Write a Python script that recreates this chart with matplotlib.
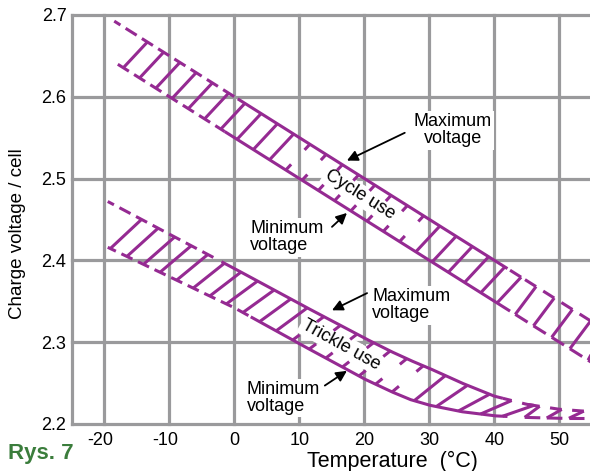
import numpy as np
import matplotlib
matplotlib.use('Agg')
import matplotlib.pyplot as plt
from matplotlib.transforms import ScaledTranslation

# ---------------- data ----------------
cycle_T = [-18.5, 0, 10, 20, 30, 40, 50, 55]
cycle_max = [2.6925, 2.60, 2.55, 2.50, 2.45, 2.40, 2.35, 2.325]
cycle_min = [2.6425, 2.55, 2.50, 2.45, 2.40, 2.35, 2.30, 2.275]

trickle_T = [-19.5, -10, 0, 10, 20, 24, 27, 30, 35, 40, 45, 50, 55]
trickle_max = [2.472, 2.432, 2.39, 2.347, 2.305, 2.289, 2.278, 2.268, 2.250, 2.234, 2.224, 2.218, 2.215]
trickle_min = [2.416, 2.38, 2.342, 2.298, 2.255, 2.240, 2.230, 2.223, 2.215, 2.210, 2.208, 2.207, 2.207]

x_ticks = [-20, -10, 0, 10, 20, 30, 40, 50]
x_tick_labels = ['-20', '-10', '0', '10', '20', '30', '40', '50']
y_ticks = [2.2, 2.3, 2.4, 2.5, 2.6, 2.7]
y_tick_labels = ['2.2', '2.3', '2.4', '2.5', '2.6', '2.7']

PURPLE = '#952a92'
GRID = '#9a9a9c'
FONT = 'Liberation Sans'
plt.rcParams['font.family'] = [FONT, 'DejaVu Sans']

fig = plt.figure(figsize=(5.9, 4.71), dpi=100)
ax = fig.add_axes([72/590, 47/471, 518/590, 409/471])
ax.set_xlim(-25, 54.7)
ax.set_ylim(2.2, 2.7)
for s in ax.spines.values():
    s.set_visible(False)

# grid + axes lines
for yv in y_ticks:
    ax.axhline(yv, color=GRID, lw=2.3, zorder=1, clip_on=False)
for xv in x_ticks:
    ax.axvline(xv, color=GRID, lw=2.3, zorder=1, clip_on=False)
ax.axvline(-25, color=GRID, lw=2.3, zorder=1, clip_on=False)

ax.set_xticks(x_ticks)
ax.set_xticklabels(x_tick_labels, fontsize=13)
ax.set_yticks(y_ticks)
ax.set_yticklabels(y_tick_labels, fontsize=13)
ax.tick_params(length=0, pad=6)
ax.tick_params(axis='y', pad=4)
for lab in ax.get_xticklabels():
    if lab.get_text().startswith('-'):
        lab.set_transform(lab.get_transform() + ScaledTranslation(-4/100, 0, fig.dpi_scale_trans))

LW = 2.2


def seg(T, V, a, b, n=20):
    tt = np.linspace(a, b, n)
    ax.plot(tt, np.interp(tt, T, V), color=PURPLE, lw=LW, solid_capstyle='butt', zorder=4)


def line(x0, y0, x1, y1):
    ax.plot([x0, x1], [y0, y1], color=PURPLE, lw=LW, solid_capstyle='butt', zorder=4)


def draw_band(T, vmax, vmin, start, end, tb0, steps, offsets, up_solid, lo_solid, tick_rng,
              cap=0.85, ztop=1.8, zbot=2.4, frac=0.22):
    """steps/offsets: list of (from_T, value) pieces."""
    seg(T, vmax, up_solid[0], up_solid[1], 200)
    seg(T, vmin, lo_solid[0], lo_solid[1], 200)

    def piece(lst, t):
        v = lst[0][1]
        for t0, val in lst:
            if t >= t0:
                v = val
        return v

    tb = tb0
    while tb < end + 3:
        tt = tb + piece(offsets, tb)
        # caps / dashes on upper boundary
        if start <= tt < up_solid[0]:
            seg(T, vmax, max(start, tt - cap), min(up_solid[0], tt + cap), 5)
        elif tt > up_solid[1]:
            seg(T, vmax, max(up_solid[1], tt - ztop), tt, 5)
        # caps / dashes on lower boundary
        if start <= tb < lo_solid[0]:
            seg(T, vmin, max(start, tb - cap), min(lo_solid[0], tb + cap), 5)
        elif tb > lo_solid[1]:
            seg(T, vmin, tb, tb + zbot, 5)
        # stem
        if tb >= start:
            x0, y0 = tb, np.interp(tb, T, vmin)
            x1, y1 = tt, np.interp(tt, T, vmax)
            if tick_rng[0] < tb < tick_rng[1]:
                line(x0, y0, x0 + frac*(x1-x0), y0 + frac*(y1-y0))
                line(x1 - frac*(x1-x0), y1 - frac*(y1-y0), x1, y1)
            else:
                line(x0, y0, x1, y1)
        tb += piece(steps, tb)


draw_band(cycle_T, cycle_max, cycle_min, -18.5, 55, -22.1,
          [(-99, 2.5), (40, 2.8)], [(-99, 3.7), (42.5, 3.2)],
          (0.5, 42.0), (-1.5, 42.4), (7.5, 27.5), ztop=1.7, zbot=1.9)
draw_band(trickle_T, trickle_max, trickle_min, -19.5, 55, -24.2,
          [(-99, 2.55), (24, 3.4)], [(-99, 4.8), (42.0, 2.3)],
          (-2.0, 41.3), (2.5, 42.0), (7.0, 25.0))

# ---------------- annotations ----------------
box = dict(facecolor='white', edgecolor='none', pad=1.5)
tkw = dict(fontsize=13, zorder=3, linespacing=1.0)
arw = dict(arrowstyle='-|>', color='black', lw=1.3, mutation_scale=16, shrinkA=0, shrinkB=0)

ax.text(33.6, 2.559, 'Maximum\nvoltage', ha='center', va='center', multialignment='center',
        bbox=box, **tkw)
ax.annotate('', xy=(17.3, 2.522), xytext=(26.2, 2.556), arrowprops=arw, zorder=5)

ax.text(19.3, 2.480, 'Cycle use', ha='center', va='center', rotation=-32,
        rotation_mode='anchor', bbox=box, **tkw)

ax.text(2.4, 2.428, 'Minimum\nvoltage', ha='left', va='center', multialignment='left',
        bbox=box, **tkw)
ax.annotate('', xy=(17.3, 2.458), xytext=(15.0, 2.441), arrowprops=arw, zorder=5)

ax.text(21.2, 2.345, 'Maximum\nvoltage', ha='left', va='center', multialignment='left',
        bbox=box, **tkw)
ax.annotate('', xy=(15.0, 2.339), xytext=(20.4, 2.360), arrowprops=arw, zorder=5)

ax.text(16.4, 2.297, 'Trickle use', ha='center', va='center', rotation=-29,
        rotation_mode='anchor', bbox=box, **tkw)

ax.text(1.9, 2.232, 'Minimum\nvoltage', ha='left', va='center', multialignment='left',
        bbox=box, **tkw)
ax.annotate('', xy=(17.3, 2.265), xytext=(13.9, 2.247), arrowprops=arw, zorder=5)

# axis labels
fig.text(18/590, 1 - 234/471, 'Charge voltage / cell', rotation=90, ha='center', va='center',
         fontsize=13.5)
fig.text(392/590, 1 - 467/471, 'Temperature  (°C)', ha='center', va='baseline', fontsize=15.5)
fig.text(8/590, 1 - 459/471, 'Rys. 7', ha='left', va='baseline', fontsize=16,
         fontweight='bold', color='#3b7d3c')

fig.savefig('out.png', dpi=100)
